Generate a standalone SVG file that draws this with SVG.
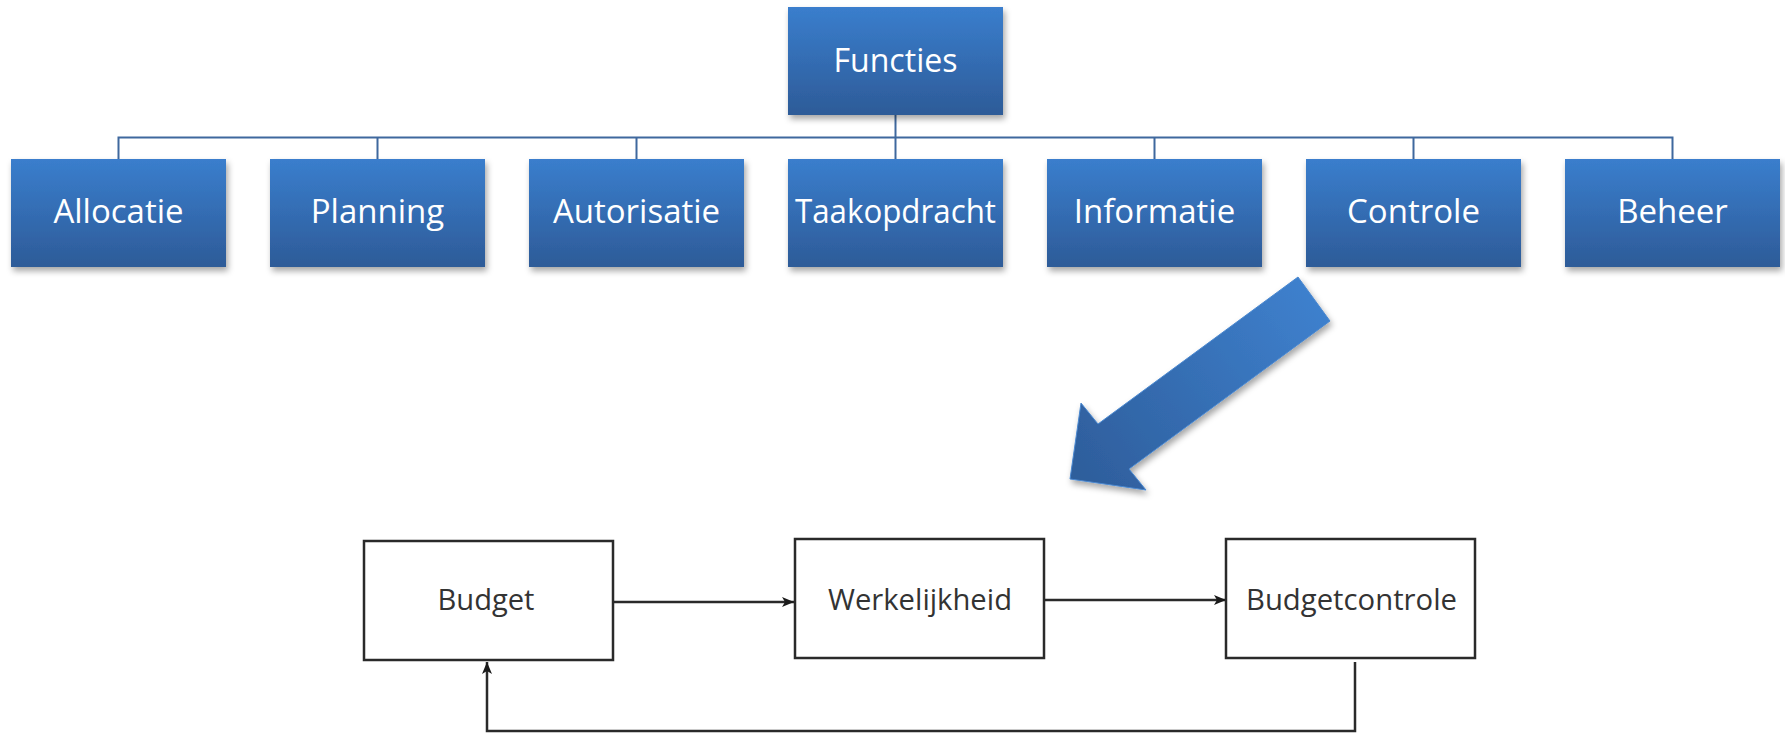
<svg xmlns="http://www.w3.org/2000/svg" width="1785" height="734" viewBox="0 0 1785 734">
<defs>
<linearGradient id="boxg" x1="0" y1="0" x2="0" y2="1">
<stop offset="0" stop-color="#3a7ecd"/>
<stop offset="1" stop-color="#2d5b98"/>
</linearGradient>
<linearGradient id="arrg" gradientUnits="userSpaceOnUse" x1="1314" y1="299" x2="1080" y2="475">
<stop offset="0" stop-color="#3e80cd"/>
<stop offset="1" stop-color="#2e5e9c"/>
</linearGradient>
<filter id="sh" x="-10%" y="-10%" width="125%" height="130%">
<feDropShadow dx="2" dy="4" stdDeviation="3" flood-color="#000" flood-opacity="0.35"/>
</filter>
<marker id="ah" viewBox="0 0 12 10" refX="12" refY="5" markerWidth="12" markerHeight="10" markerUnits="userSpaceOnUse" orient="auto">
<path d="M0,0 L12,5 L0,10 L3,5 Z" fill="#1a1a1a"/>
</marker>
<style>
.bx{fill:url(#boxg);filter:url(#sh);}
.bt{font-family:"Open Sans","Noto Sans",sans-serif;font-size:33px;fill:#ffffff;text-anchor:middle;}
.wb{fill:#ffffff;stroke:#2a2a2a;stroke-width:2.5;}
.wt{font-family:"Open Sans","Noto Sans",sans-serif;font-size:30px;fill:#333333;text-anchor:middle;}
.tc{fill:none;stroke:#3f689e;stroke-width:2;}
.bc{fill:none;stroke:#2a2a2a;stroke-width:2.5;}
</style>
</defs>
<g id="connectors">
<path class="tc" d="M118.5,159 V137.5 H1672.5 V159"/>
<path class="tc" d="M377.5,137.5 V159 M636.5,137.5 V159 M1154.5,137.5 V159 M1413.5,137.5 V159"/>
<path class="tc" d="M895.5,115 V159"/>
<path class="bc" d="M613,602 H794" marker-end="url(#ah)"/>
<path class="bc" d="M1045,600 H1226" marker-end="url(#ah)"/>
<path class="bc" d="M1355,662 V731 H487 V662" marker-end="url(#ah)"/>
</g>
<g id="functies"><rect class="bx" x="788" y="7" width="215" height="108"/><text class="bt" x="895.5" y="72" textLength="124" lengthAdjust="spacingAndGlyphs">Functies</text></g>
<g id="allocatie"><rect class="bx" x="11" y="159" width="215" height="108"/><text class="bt" x="118.5" y="223">Allocatie</text></g>
<g id="planning"><rect class="bx" x="270" y="159" width="215" height="108"/><text class="bt" x="377.5" y="223">Planning</text></g>
<g id="autorisatie"><rect class="bx" x="529" y="159" width="215" height="108"/><text class="bt" x="636.5" y="223">Autorisatie</text></g>
<g id="taakopdracht"><rect class="bx" x="788" y="159" width="215" height="108"/><text class="bt" x="895.5" y="223" textLength="201" lengthAdjust="spacingAndGlyphs">Taakopdracht</text></g>
<g id="informatie"><rect class="bx" x="1047" y="159" width="215" height="108"/><text class="bt" x="1154.5" y="223">Informatie</text></g>
<g id="controle"><rect class="bx" x="1306" y="159" width="215" height="108"/><text class="bt" x="1413.5" y="223">Controle</text></g>
<g id="beheer"><rect class="bx" x="1565" y="159" width="215" height="108"/><text class="bt" x="1672.5" y="223">Beheer</text></g>
<g id="bigarrow"><polygon points="1298,277 1330,321 1129,469 1146,490 1070,479 1081,403 1098,424" fill="url(#arrg)" stroke="#4a88d0" stroke-width="1" filter="url(#sh)"/></g>
<g id="budget"><rect class="wb" x="364" y="541" width="249" height="119"/><text class="wt" x="486" y="610" textLength="97" lengthAdjust="spacingAndGlyphs">Budget</text></g>
<g id="werkelijkheid"><rect class="wb" x="795" y="539" width="249" height="119"/><text class="wt" x="920" y="610" textLength="184" lengthAdjust="spacingAndGlyphs">Werkelijkheid</text></g>
<g id="budgetcontrole"><rect class="wb" x="1226" y="539" width="249" height="119"/><text class="wt" x="1351.5" y="610" textLength="211" lengthAdjust="spacingAndGlyphs">Budgetcontrole</text></g>
</svg>
